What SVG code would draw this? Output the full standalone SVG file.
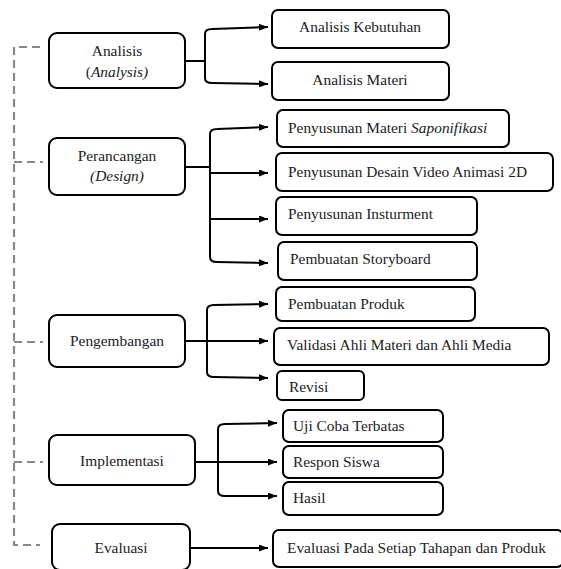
<svg xmlns="http://www.w3.org/2000/svg" width="561" height="569" viewBox="0 0 561 569">
<style>
.box{fill:#fff;stroke:#000;stroke-width:2}
.t{font-family:"Liberation Serif","Times New Roman","DejaVu Serif",serif;font-size:15.4px;fill:#222}
.c{text-anchor:middle}
.ln{fill:none;stroke:#000;stroke-width:2}
.ds{fill:none;stroke:#888;stroke-width:2.2;stroke-dasharray:8,5}
</style>
<defs>
<marker id="ah" markerWidth="9" markerHeight="7" refX="9" refY="3.5" orient="auto" markerUnits="userSpaceOnUse"><path d="M0,0 L9,3.5 L0,7z" fill="#000"/></marker>
</defs>
<g id="connectors">
<path class="ds" d="M40,47 H14 V545 H40"/>
<path class="ds" d="M14,162 H43"/>
<path class="ds" d="M14,342 H43"/>
<path class="ds" d="M14,462 H43"/>
<path class="ln" d="M185,61 H205"/>
<path class="ln" d="M205,61 V34 Q205,29 212,29 L268,27" marker-end="url(#ah)"/>
<path class="ln" d="M205,61 V78 Q205,83 212,83 L268,84" marker-end="url(#ah)"/>
<path class="ln" d="M185,167 H210"/>
<path class="ln" d="M210,167 V134 Q210,129 217,129 L268,127" marker-end="url(#ah)"/>
<path class="ln" d="M210,167 V173 H268" marker-end="url(#ah)"/>
<path class="ln" d="M210,173 V219 H268" marker-end="url(#ah)"/>
<path class="ln" d="M210,219 V257 Q210,262 217,262 L268,263" marker-end="url(#ah)"/>
<path class="ln" d="M185,341 H268" marker-end="url(#ah)"/>
<path class="ln" d="M207,341 V310 Q207,305 214,305 L268,304" marker-end="url(#ah)"/>
<path class="ln" d="M207,341 V372 Q207,377 214,377 L268,378" marker-end="url(#ah)"/>
<path class="ln" d="M195,462 H277" marker-end="url(#ah)"/>
<path class="ln" d="M218,462 V429 Q218,424 225,424 L277,423" marker-end="url(#ah)"/>
<path class="ln" d="M218,462 V491 Q218,496 225,496 L277,496" marker-end="url(#ah)"/>
<path class="ln" d="M190,548 H268" marker-end="url(#ah)"/>
</g>
<g id="analisis"><rect class="box" x="49" y="33" width="136" height="55" rx="8"/><text class="t c" x="117" y="56">Analisis</text><text class="t c" x="117" y="77">(<tspan font-style="italic">Analysis)</tspan></text></g>
<g id="perancangan"><rect class="box" x="49" y="138" width="136" height="57" rx="8"/><text class="t c" x="117" y="161">Perancangan</text><text class="t c" x="117" y="181" font-style="italic">(Design)</text></g>
<g id="pengembangan"><rect class="box" x="49" y="315" width="136" height="52" rx="8"/><text class="t c" x="117" y="346">Pengembangan</text></g>
<g id="implementasi"><rect class="box" x="49" y="435" width="146" height="50" rx="8"/><text class="t c" x="122" y="466">Implementasi</text></g>
<g id="evaluasi"><rect class="box" x="52" y="524" width="138" height="46" rx="8"/><text class="t c" x="121" y="553">Evaluasi</text></g>
<g id="analisis-kebutuhan"><rect class="box" x="272" y="10" width="177" height="38" rx="6"/><text class="t c" x="360" y="32">Analisis Kebutuhan</text></g>
<g id="analisis-materi"><rect class="box" x="272" y="62" width="177" height="38" rx="6"/><text class="t c" x="360" y="85">Analisis Materi</text></g>
<g id="penyusunan-materi"><rect class="box" x="277" y="110" width="232" height="37" rx="6"/><text class="t" x="288" y="133">Penyusunan Materi <tspan font-style="italic">Saponifikasi</tspan></text></g>
<g id="penyusunan-desain"><rect class="box" x="276" y="153" width="277" height="38" rx="6"/><text class="t" x="288" y="177">Penyusunan Desain Video Animasi 2D</text></g>
<g id="penyusunan-insturment"><rect class="box" x="276" y="197" width="201" height="38" rx="6"/><text class="t" x="288" y="219">Penyusunan Insturment</text></g>
<g id="pembuatan-storyboard"><rect class="box" x="278" y="242" width="199" height="38" rx="6"/><text class="t" x="290" y="264">Pembuatan Storyboard</text></g>
<g id="pembuatan-produk"><rect class="box" x="276" y="287" width="199" height="34" rx="6"/><text class="t" x="288" y="309">Pembuatan Produk</text></g>
<g id="validasi"><rect class="box" x="274" y="328" width="275" height="37" rx="6"/><text class="t" x="287" y="350">Validasi Ahli Materi dan Ahli Media</text></g>
<g id="revisi"><rect class="box" x="277" y="371" width="87" height="29" rx="5"/><text class="t" x="289" y="392">Revisi</text></g>
<g id="uji-coba"><rect class="box" x="283" y="410" width="160" height="32" rx="6"/><text class="t" x="293" y="431">Uji Coba Terbatas</text></g>
<g id="respon-siswa"><rect class="box" x="283" y="446" width="160" height="32" rx="6"/><text class="t" x="293" y="467">Respon Siswa</text></g>
<g id="hasil"><rect class="box" x="283" y="482" width="160" height="33" rx="6"/><text class="t" x="293" y="503">Hasil</text></g>
<g id="evaluasi-pada"><rect class="box" x="273" y="530" width="290" height="37" rx="6"/><text class="t" x="287" y="553">Evaluasi Pada Setiap Tahapan dan Produk</text></g>
</svg>
